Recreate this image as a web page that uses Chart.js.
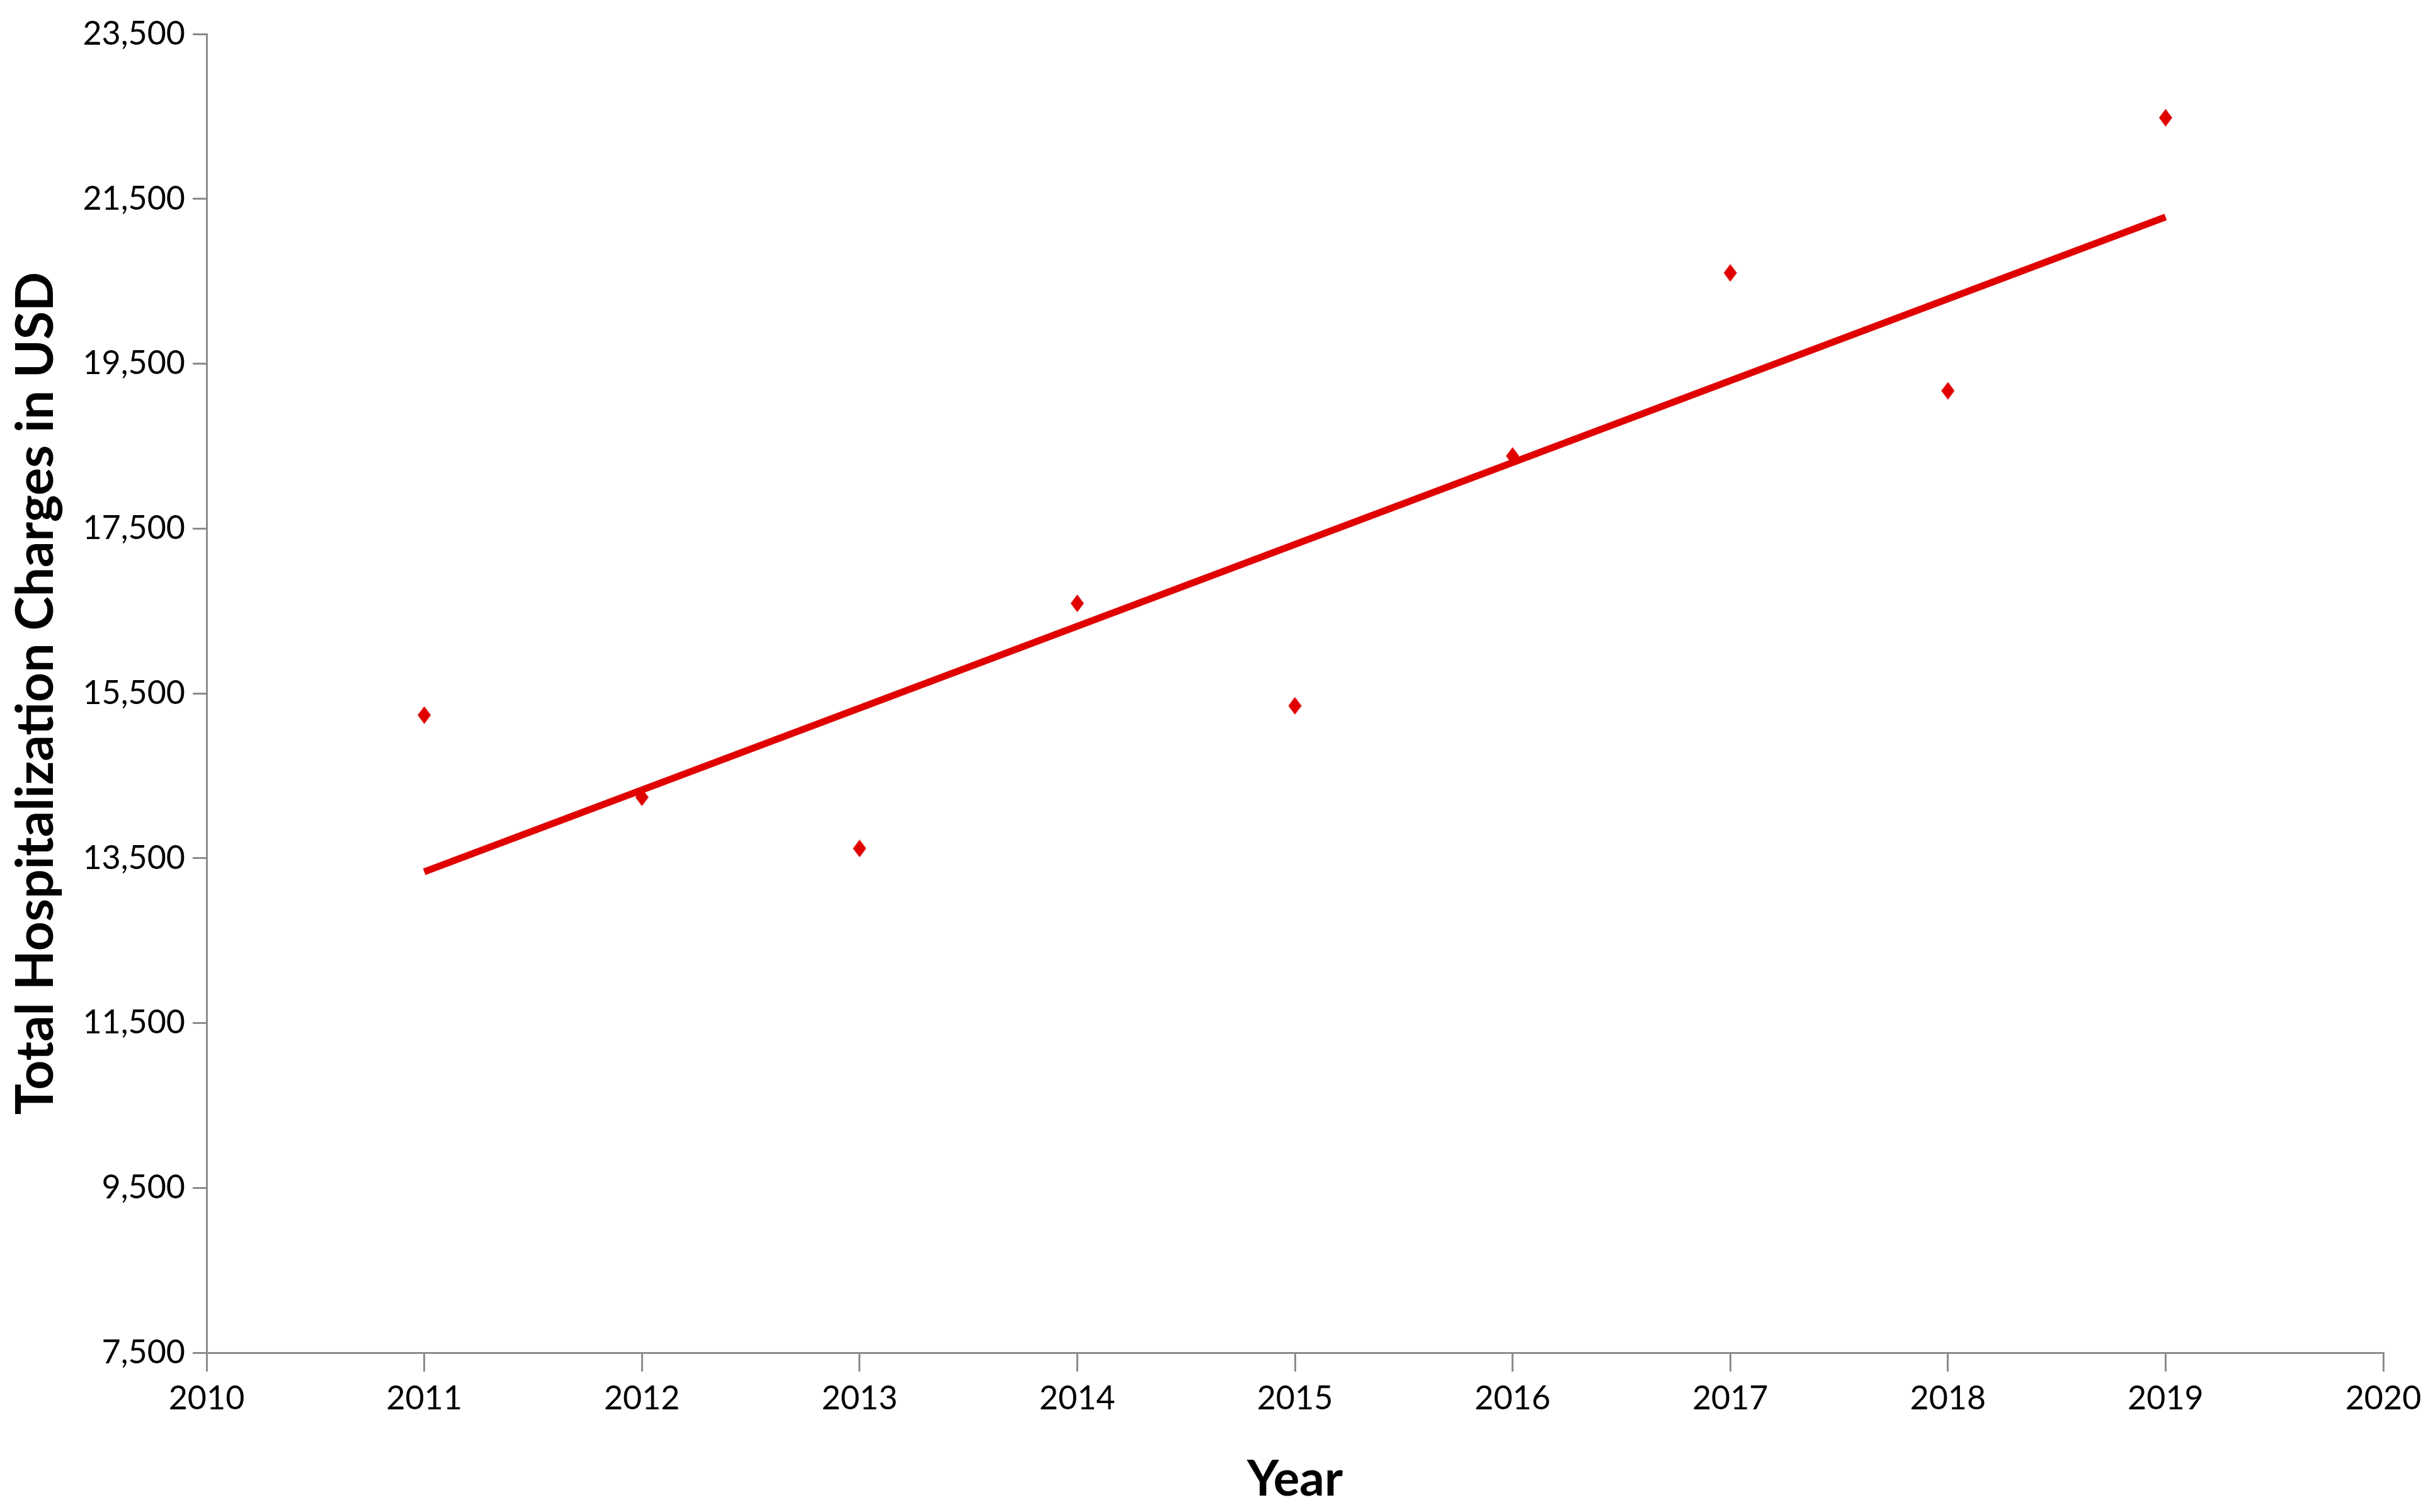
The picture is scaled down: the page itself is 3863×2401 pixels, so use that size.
<!DOCTYPE html>
<html>
<head>
<meta charset="utf-8">
<script src="https://cdn.jsdelivr.net/npm/chart.js@4/dist/chart.umd.min.js"></script>
<style>
  html, body { margin: 0; padding: 0; background: #fff; }
  #chart { display: block; }
</style>
</head>
<body>
<canvas id="chart" width="3863" height="2401"></canvas>
<script>
// values
const years = [2011, 2012, 2013, 2014, 2015, 2016, 2017, 2018, 2019];
const charges = [15236, 14239, 13618, 16592, 15349, 18380, 20601, 19171, 22484];
const trendYears = [2011, 2019];
const trendCharges = [13335, 21279];
const xTicks = [2010, 2011, 2012, 2013, 2014, 2015, 2016, 2017, 2018, 2019, 2020];
const yTicks = [7500, 9500, 11500, 13500, 15500, 17500, 19500, 21500, 23500];

const red = '#e00000';
const axisGrey = '#8c8c8c';

// narrow diamond marker, taller than wide
function diamond(w, h) {
    let c = document.createElement('canvas');
    c.width = w;
    c.height = h;
    let g = c.getContext('2d');
    g.fillStyle = red;
    g.beginPath();
    g.moveTo(w / 2, 0);
    g.lineTo(w, h / 2);
    g.lineTo(w / 2, h);
    g.lineTo(0, h / 2);
    g.closePath();
    g.fill();
    return c;
}

let ctx = document.getElementById('chart').getContext('2d');
let myChart = new Chart(ctx, {
    type: 'scatter',
    data: {
        datasets: [{
            label: 'Charges',
            data: years.map((y, i) => ({ x: y, y: charges[i] })),
            pointStyle: diamond(21, 28),
            pointRadius: 14,
            showLine: false,
            order: 1
        }, {
            label: 'Trend',
            data: trendYears.map((y, i) => ({ x: y, y: trendCharges[i] })),
            showLine: true,
            borderColor: red,
            borderWidth: 11,
            pointRadius: 0,
            order: 2
        }]
    },
    options: {
        responsive: false,
        animation: false,
        layout: { padding: { top: 54, right: 79, left: 0, bottom: 0 } },
        plugins: {
            legend: { display: false },
            tooltip: { enabled: false }
        },
        scales: {
            x: {
                type: 'linear',
                min: 2010,
                max: 2020,
                afterBuildTicks: function(scale) {
                    scale.ticks = xTicks.map(v => ({ value: v }));
                },
                afterFit: function(scale) { scale.height = 253; },
                border: { color: axisGrey, width: 3 },
                grid: { drawOnChartArea: false, tickLength: 30, color: axisGrey, lineWidth: 3 },
                ticks: {
                    color: '#000',
                    padding: 12,
                    maxRotation: 0,
                    font: { family: 'Lato', size: 52 },
                    callback: v => String(v)
                },
                title: {
                    display: true,
                    text: 'Year',
                    color: '#000',
                    padding: { top: 4 },
                    font: { family: 'Lato', size: 78, weight: 'bold' }
                }
            },
            y: {
                min: 7500,
                max: 23500,
                afterBuildTicks: function(scale) {
                    scale.ticks = yTicks.map(v => ({ value: v }));
                },
                afterFit: function(scale) { scale.width = 328; },
                border: { color: axisGrey, width: 3 },
                grid: { drawOnChartArea: false, tickLength: 22, color: axisGrey, lineWidth: 3 },
                ticks: {
                    color: '#000',
                    padding: 12,
                    font: { family: 'Lato', size: 52 },
                    callback: v => v.toLocaleString('en-US')
                },
                title: {
                    display: true,
                    text: 'Total Hospitalization Charges in USD',
                    color: '#000',
                    padding: { top: 8, bottom: 0 },
                    font: { family: 'Lato', size: 82, weight: 'bold' }
                }
            }
        }
    }
});
</script>
</body>
</html>
